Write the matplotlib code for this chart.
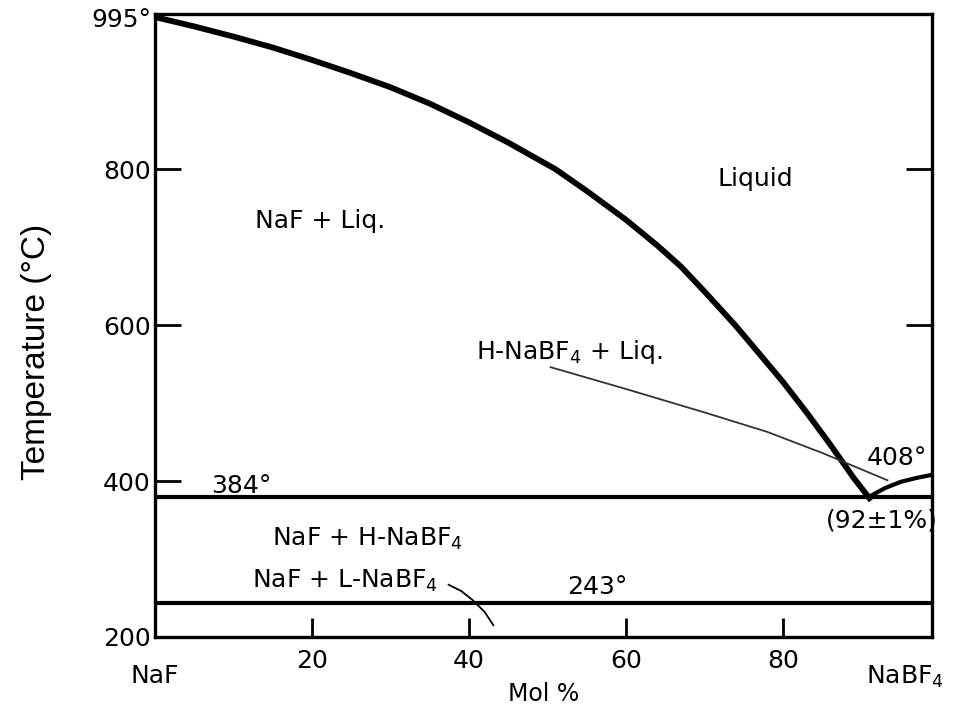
import matplotlib.pyplot as plt

# Liquidus NaF + Liq. (Mol % NaBF4, temperatur)
liq_x = [0, 5, 10, 15, 20, 25, 30, 35, 40, 45, 51, 55, 60, 64, 67, 70, 73.9, 77, 80, 83, 86, 89, 91]
liq_t = [995, 983, 970, 956, 940, 923, 905, 884, 860, 834, 800, 772, 735, 702, 675, 643, 600, 563, 527, 488, 447, 404, 378]

# Liquidus H-NaBF4 + Liq.
liq2_x = [91, 93, 95, 97, 99]
liq2_t = [380, 391, 399, 404, 408]

# Garis eutektik dan transisi
t_eutektik = 380
t_transisi = 243

# Garis penunjuk label
tunjuk1_x = [50.4, 60, 70, 78, 85, 93.3]
tunjuk1_t = [546, 518, 488, 463, 436, 401]
tunjuk2_x = [37.4, 39, 40.5, 42, 43.1]
tunjuk2_t = [267, 259, 247, 232, 215]

yticks = [200, 400, 600, 800, 995]
ytick_labels = ['200', '400', '600', '800', '995°']
xticks = [20, 40, 60, 80]

plt.rcParams['font.family'] = 'DejaVu Sans'
plt.rcParams['mathtext.fontset'] = 'dejavusans'

fig = plt.figure(figsize=(9.63, 7.17), dpi=100)
ax = fig.add_axes([0.161, 0.1116, 0.807, 0.8689])

ax.plot(liq_x, liq_t, color='black', linewidth=4.2, solid_joinstyle='round')
ax.plot(liq2_x, liq2_t, color='black', linewidth=3)
ax.axhline(t_eutektik, color='black', linewidth=3)
ax.axhline(t_transisi, color='black', linewidth=3)
ax.plot(tunjuk1_x, tunjuk1_t, color='#333333', linewidth=1.3)
ax.plot(tunjuk2_x, tunjuk2_t, color='black', linewidth=1.3)

ax.set_xlim(0, 99)
ax.set_ylim(200, 999)
ax.set_xticks(xticks)
ax.set_xticklabels([str(v) for v in xticks])
ax.set_yticks(yticks)
ax.set_yticklabels(ytick_labels)
ax.yaxis.get_major_ticks()[-1].tick1line.set_visible(False)
ax.yaxis.get_major_ticks()[0].tick1line.set_visible(False)

ax.tick_params(axis='x', direction='in', length=14, width=2, labelsize=18, pad=9)
ax.tick_params(axis='y', direction='in', length=19, width=2, labelsize=18, pad=3)
for s in ax.spines.values():
    s.set_linewidth(2.4)

sec = ax.secondary_yaxis('right')
sec.set_yticks([600, 800])
sec.set_yticklabels([])
sec.tick_params(direction='in', length=19, width=2)
sec.spines['right'].set_visible(False)

ax.set_ylabel('Temperature (°C)', family='Liberation Sans', fontsize=24)
ax.yaxis.set_label_coords(-0.132, 0.457)
ax.set_xlabel('Mol %', fontsize=17, labelpad=6)

fs = 18
ax.text(76.5, 788, 'Liquid', fontsize=fs, ha='center', va='center')
ax.text(21, 733, 'NaF + Liq.', fontsize=fs, ha='center', va='center')
ax.text(52.7, 566, r'H-NaBF$_4$ + Liq.', fontsize=fs, ha='center', va='center')
ax.text(94.5, 430, '408°', fontsize=fs, ha='center', va='center')
ax.text(11, 394, '384°', fontsize=fs, ha='center', va='center')
ax.text(92.6, 350, '(92±1%)', fontsize=fs, ha='center', va='center')
ax.text(27.1, 326, r'NaF + H-NaBF$_4$', fontsize=fs, ha='center', va='center')
ax.text(24.2, 272, r'NaF + L-NaBF$_4$', fontsize=fs, ha='center', va='center')
ax.text(56.4, 264, '243°', fontsize=fs, ha='center', va='center')
ax.text(0, 150, 'NaF', fontsize=fs, ha='center', va='center')
ax.text(95.5, 149, r'NaBF$_4$', fontsize=fs, ha='center', va='center')

fig.savefig('out.png', dpi=100)
